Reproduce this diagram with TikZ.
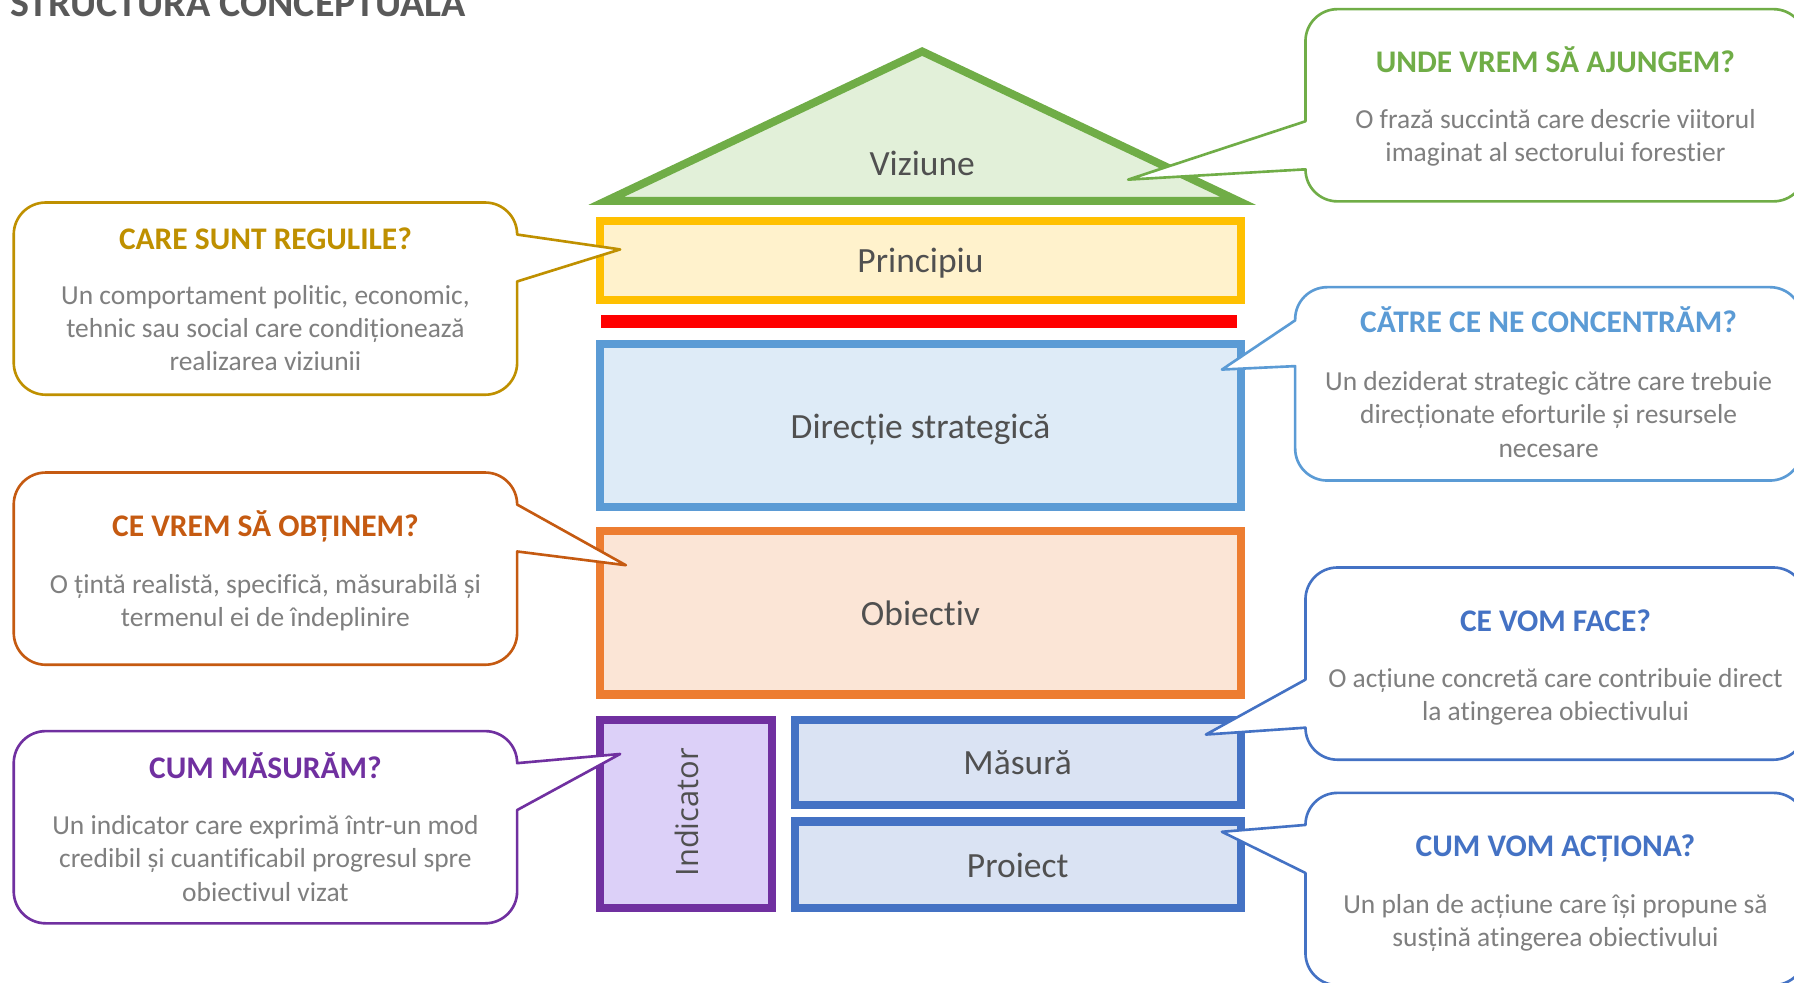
\documentclass[tikz,border=0pt]{standalone}
\usepackage{fontspec}
\setmainfont[Ligatures={NoCommon}]{Carlito}
\newfontfamily\indfont{Open Sans}
\definecolor{cGrn}{HTML}{70AD47}
\definecolor{fGrn}{HTML}{E2F0D9}
\definecolor{cYel}{HTML}{FFC000}
\definecolor{fYel}{HTML}{FFF2CC}
\definecolor{cBlu}{HTML}{5B9BD5}
\definecolor{fBlu}{HTML}{DEEBF7}
\definecolor{cOrg}{HTML}{ED7D31}
\definecolor{fOrg}{HTML}{FBE5D6}
\definecolor{cPur}{HTML}{7030A0}
\definecolor{fPur}{HTML}{DCD0F8}
\definecolor{cDbl}{HTML}{4472C4}
\definecolor{fDbl}{HTML}{DAE3F3}
\definecolor{cGold}{HTML}{BF9000}
\definecolor{cRust}{HTML}{C55A11}
\definecolor{tBody}{HTML}{7F7F7F}
\definecolor{tLab}{HTML}{505050}
\definecolor{tHead}{HTML}{595959}
% callout with pointer on the right side: color, x0, y0, x1, y1, pa, pb, tipx, tipy
\newcommand{\bubbleR}[9]{%
  \draw[bubble=#1] ({#2+28},#3) -- ({#4-28},#3)
    .. controls ({#4-12.5},#3) and (#4,{#3+12.5}) .. (#4,{#3+28})
    -- (#4,#6) -- (#8,#9) -- (#4,#7) -- (#4,{#5-28})
    .. controls (#4,{#5-12.5}) and ({#4-12.5},#5) .. ({#4-28},#5)
    -- ({#2+28},#5)
    .. controls ({#2+12.5},#5) and (#2,{#5-12.5}) .. (#2,{#5-28})
    -- (#2,{#3+28})
    .. controls (#2,{#3+12.5}) and ({#2+12.5},#3) .. ({#2+28},#3) -- cycle;}
% callout with pointer on the left side
\newcommand{\bubbleL}[9]{%
  \draw[bubble=#1] ({#2+28},#3) -- ({#4-28},#3)
    .. controls ({#4-12.5},#3) and (#4,{#3+12.5}) .. (#4,{#3+28})
    -- (#4,{#5-28})
    .. controls (#4,{#5-12.5}) and ({#4-12.5},#5) .. ({#4-28},#5)
    -- ({#2+28},#5)
    .. controls ({#2+12.5},#5) and (#2,{#5-12.5}) .. (#2,{#5-28})
    -- (#2,#7) -- (#8,#9) -- (#2,#6) -- (#2,{#3+28})
    .. controls (#2,{#3+12.5}) and ({#2+12.5},#3) .. ({#2+28},#3) -- cycle;}
\begin{document}
\begin{tikzpicture}[x=1pt,y=-1pt,
  stackbox/.style={draw=#1, line width=7pt, text=tLab,
    font=\fontsize{31}{37}\selectfont, text height=21.7pt, text depth=0pt, inner sep=0pt},
  bubble/.style={draw=#1, line width=2.3pt, fill=white, line join=round},
  hd/.style={font=\fontsize{27.5}{33}\selectfont\bfseries, text=#1, anchor=base, inner sep=0pt},
  bd/.style={font=\fontsize{24}{29}\selectfont, text=tBody, align=center, anchor=base, inner sep=0pt},
  lab/.style={font=\fontsize{31}{37}\selectfont, text=tLab, anchor=base, inner sep=0pt}]
\useasboundingbox (0,0) rectangle (1568,859);
\clip (0,0) rectangle (1568,859);

% title
\node[font=\fontsize{35}{42}\selectfont\bfseries, text=tHead, anchor=base west, inner sep=0pt]
  (title) at (8.7,14) {STRUCTURA CONCEPTUALĂ};

% house
\draw[line width=7pt, draw=cGrn, fill=fGrn, line join=miter] (806,45) -- (1082,175.5) -- (530,175.5) -- cycle;
\node[lab] (viz) at (806,153) {Viziune};
\node[stackbox=cYel, fill=fYel, minimum width=560pt, minimum height=69pt] (princ) at (804.5,227.5) {Principiu};
\node[fill=red, inner sep=0pt, minimum width=556pt, minimum height=11.5pt] (bar) at (803,280.75) {};
\node[stackbox=cBlu, fill=fBlu, minimum width=560pt, minimum height=142.5pt] (direc) at (804.5,372.25) {Direcție strategică};
\node[stackbox=cOrg, fill=fOrg, minimum width=560pt, minimum height=143pt] (obiect) at (804.5,535.5) {Obiectiv};
\node[stackbox=cPur, fill=fPur, minimum width=150pt, minimum height=164.5pt] (indic) at (599.5,711.25) {};
\node[rotate=90, font=\indfont\fontsize{27}{32}\selectfont, text=tLab, inner sep=0pt] (indt) at (600,710) {Indicator};
\node[stackbox=cDbl, fill=fDbl, minimum width=390pt, minimum height=74.5pt] (masura) at (889.5,666.25) {Măsură};
\node[stackbox=cDbl, fill=fDbl, minimum width=390pt, minimum height=75.5pt] (proiect) at (889.5,755.75) {Proiect};

% left callouts
\bubbleR{cGold}{12}{177}{452}{345}{205}{246}{542}{218}
\node[hd=cGold] (q1) at (232,218) {CARE SUNT REGULILE?};
\node[bd] (d1) at (232,324) {Un comportament politic, economic,\\tehnic sau social care condiționează\\realizarea viziunii};

\bubbleR{cRust}{12}{413}{452}{581}{441}{482}{547}{494}
\node[hd=cRust] (q2) at (232,469) {CE VREM SĂ OBȚINEM?};
\node[bd] (d2) at (232,547.5) {O țintă realistă, specifică, măsurabilă și\\termenul ei de îndeplinire};

\bubbleR{cPur}{12}{639}{452}{807}{667}{708}{542}{659}
\node[hd=cPur] (q3) at (232,680) {CUM MĂSURĂM?};
\node[bd] (d3) at (232,787.5) {Un indicator care exprimă într-un mod\\credibil și cuantificabil progresul spre\\obiectivul vizat};

% right callouts
\bubbleL{cGrn}{1141}{8}{1578}{176}{106}{148}{986}{157}
\node[hd=cGrn] (q4) at (1359.5,63) {UNDE VREM SĂ AJUNGEM?};
\node[bd] (d4) at (1359.5,141.5) {O frază succintă care descrie viitorul\\imaginat al sectorului forestier};

\bubbleL{cBlu}{1132}{251}{1575}{420}{280}{320}{1068}{323}
\node[hd=cBlu] (q5) at (1353.5,291) {CĂTRE CE NE CONCENTRĂM?};
\node[bd] (d5) at (1353.5,399.5) {Un deziderat strategic către care trebuie\\direcționate eforturile și resursele\\necesare};

\bubbleL{cDbl}{1141}{496}{1578}{664}{594}{636}{1054}{642}
\node[hd=cDbl] (q6) at (1359.5,552) {CE VOM FACE?};
\node[bd] (d6) at (1359.5,629.5) {O acțiune concretă care contribuie direct\\la atingerea obiectivului};

\bubbleL{cDbl}{1141}{693}{1578}{861}{721}{763}{1068}{727}
\node[hd=cDbl] (q7) at (1359.5,749) {CUM VOM ACȚIONA?};
\node[bd] (d7) at (1359.5,827.5) {Un plan de acțiune care își propune să\\susțină atingerea obiectivului};
\end{tikzpicture}
\end{document}
